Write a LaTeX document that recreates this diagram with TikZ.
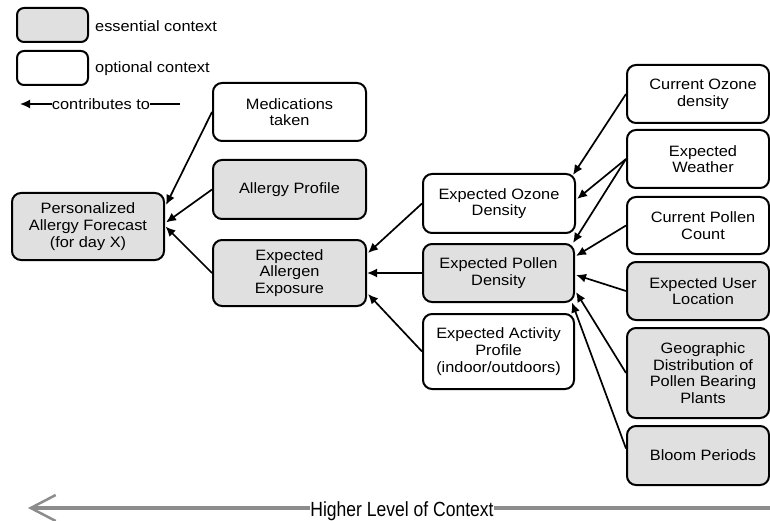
\documentclass[tikz,border=0pt]{standalone}
\usepackage{fontspec}
\newfontfamily\boxfnt{Liberation Sans}[FakeStretch=1.09]
\newfontfamily\narfnt{Liberation Sans}[FakeStretch=0.855]
\usetikzlibrary{arrows.meta,calc}
\definecolor{essgray}{HTML}{E0E0E0}
\definecolor{axisgray}{HTML}{8C8C8C}
\begin{document}
\begin{tikzpicture}[x=1pt,y=-1pt,
  txt/.style={align=center, inner sep=0pt, font=\boxfnt\fontsize{15}{16.7}\selectfont},
  box/.style={txt, draw=black, line width=2pt, rounded corners=9pt},
  ess/.style={box, fill=essgray},
  opt/.style={box, fill=white},
  rcol/.style={minimum width=142pt},
  mcol/.style={minimum width=153pt},
  ocol/.style={minimum width=152pt},
  arr/.style={line width=1.7pt, -{Latex[length=10pt,width=9pt]}},
  axis/.style={draw=axisgray, line width=4pt}
]
\useasboundingbox (0,0) rectangle (770,521);

% legend
\node[ess, minimum width=71pt, minimum height=34pt, rounded corners=7pt] (lg1) at (52.5,25) {};
\node[txt, anchor=west] (lg1t) at (95,26) {essential context};
\node[opt, minimum width=71pt, minimum height=34pt, rounded corners=7pt] (lg2) at (52.5,68) {};
\node[txt, anchor=west] (lg2t) at (95,69) {optional context};
\node[txt] (ct) at (101,104) {contributes to};
\coordinate (ctl) at (20,104);
\coordinate (ctr) at (180,104);
\draw[arr] (ct.west) -- (ctl);
\draw[line width=1.7pt] (ct.east) -- (ctr);

% left
\node[ess, ocol, minimum height=67pt] (pers) at (88,226.5) {Personalized\\Allergy Forecast\\(for day X)};

% middle column
\node[opt, mcol, minimum height=58pt] (med) at (289.5,112) {Medications\\taken};
\node[ess, mcol, minimum height=59pt] (prof) at (289.5,189.5) {Allergy Profile};
\node[ess, mcol, minimum height=66pt] (exp) at (289.5,273) {Expected\\Allergen\\Exposure};

% third column
\node[opt, ocol, minimum height=59pt] (ozd) at (499,203.5) {Expected Ozone\\Density};
\node[ess, minimum width=151pt, minimum height=58pt] (pold) at (498.5,273) {Expected Pollen\\Density};
\node[opt, minimum width=151pt, minimum height=75pt] (act) at (498.5,351.5) {Expected Activity\\Profile\\(indoor/outdoors)};

% right column
\node[opt, rcol, minimum height=58pt] (coz) at (698,94) {};
\node[txt] (cozt) at ($(coz.center)+(5,0)$) {Current Ozone\\density};
\node[opt, rcol, minimum height=58pt] (wea) at (698,159) {};
\node[txt] (weat) at ($(wea.center)+(5,0)$) {Expected\\Weather};
\node[opt, rcol, minimum height=57pt] (cpo) at (698,225.5) {};
\node[txt] (cpot) at ($(cpo.center)+(5,0)$) {Current Pollen\\Count};
\node[ess, rcol, minimum height=58pt] (usr) at (698,291) {};
\node[txt] (usrt) at ($(usr.center)+(5,0)$) {Expected User\\Location};
\node[ess, rcol, minimum height=90pt] (geo) at (698,373) {};
\node[txt] (geot) at ($(geo.center)+(5,0)$) {Geographic\\Distribution of\\Pollen Bearing\\Plants};
\node[ess, rcol, minimum height=59pt] (blm) at (698,455.5) {};
\node[txt] (blmt) at ($(blm.center)+(5,0)$) {Bloom Periods};

% connectors into third column
\draw[arr] (coz.west) -- ($(ozd.north east)+(-3,2)$);
\draw[arr] (wea.west) -- ($(ozd.east)+(1,-4.5)$);
\draw[arr] (wea.west) -- ($(pold.north east)+(-2,0)$);
\draw[arr] (cpo.west) -- ($(pold.east)+(1,-17)$);
\draw[arr] (usr.west) -- ($(pold.east)+(1,2)$);
\draw[arr] (geo.west) -- ($(pold.east)+(1,19)$);
\draw[arr] ($(blm.west)+(0,-7)$) -- ($(pold.south east)+(-3,-0.5)$);

% connectors into middle
\draw[arr] (ozd.west) -- ($(exp.east)+(1,-20)$);
\draw[arr] (pold.west) -- (exp.east);
\draw[arr] (act.west) -- ($(exp.east)+(1,21)$);

% connectors into left
\draw[arr] (med.west) -- ($(pers.east)+(1,-21.5)$);
\draw[arr] (prof.west) -- ($(pers.east)+(1,-4)$);
\draw[arr] (exp.west) -- ($(pers.east)+(0.5,0)$);

% bottom axis
\node[inner sep=0.5pt, anchor=base, font=\narfnt\fontsize{20.5}{22}\selectfont] (hl) at (402,516.5) {Higher Level of Context};
\coordinate (axr) at (772,508);
\coordinate (axl) at (28,508);
\draw[axis] (axr) -- (hl.east |- axr);
\draw[axis, -{Straight Barb[length=25pt,width=26pt,line width=2.5pt]}] (hl.west |- axl) -- (axl);
\end{tikzpicture}
\end{document}
